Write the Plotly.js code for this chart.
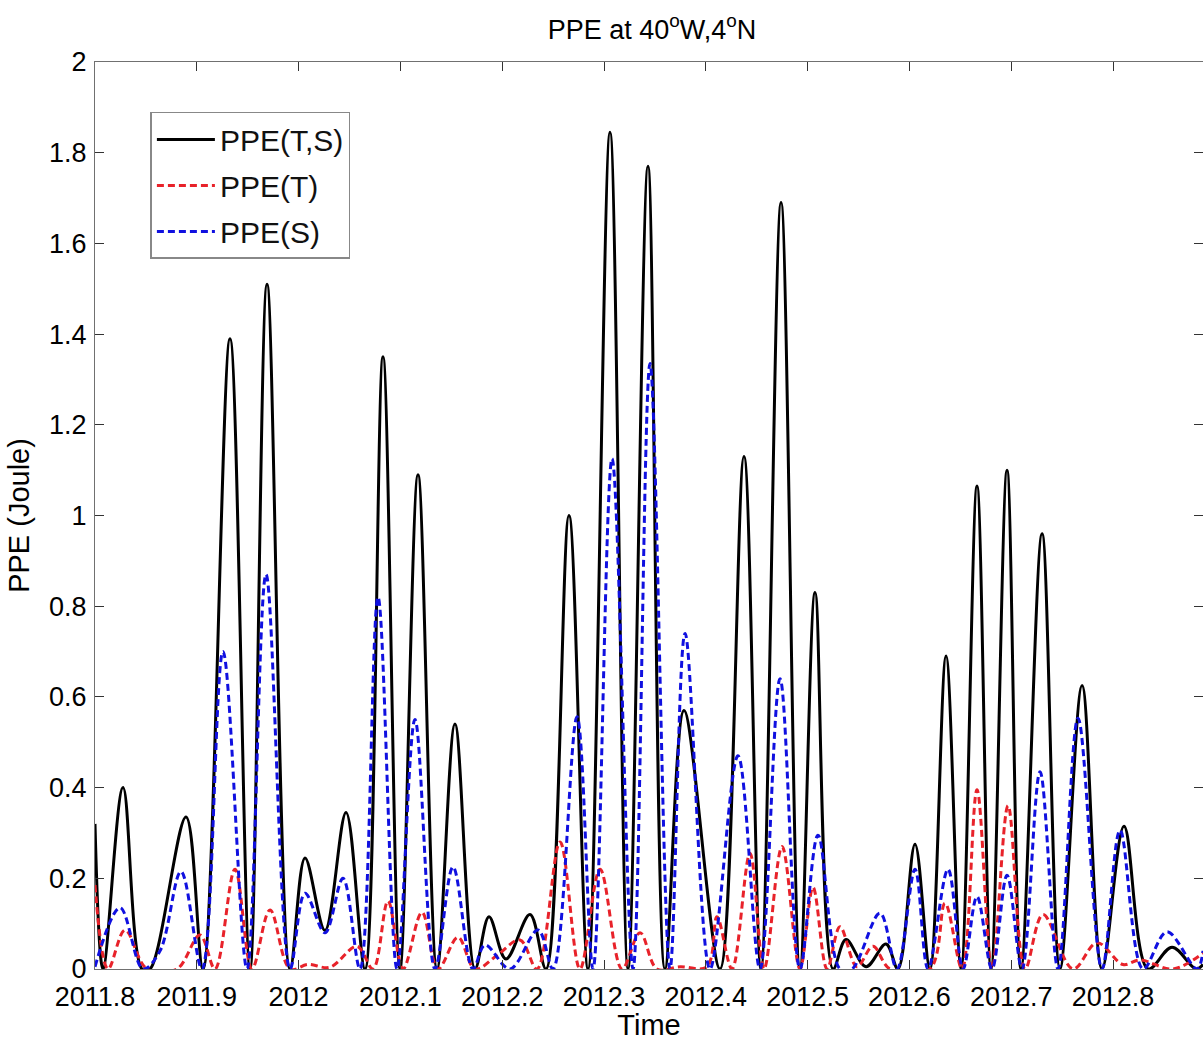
<!DOCTYPE html>
<html>
<head>
<meta charset="utf-8">
<script src="https://cdn.plot.ly/plotly-3.0.1.min.js"></script>
<style>html,body{margin:0;padding:0;background:#fff;}#chart{width:1203px;height:1041px;}</style>
</head>
<body>
<div id="chart"></div>
<script>
// PPE(T,S) — black solid
const tTS = [2011.8000,2011.8079,2011.8275,2011.8462,2011.8540,2011.8894,2011.9061,2011.9326,2011.9523,2011.9690,2011.9916,2012.0063,2012.0259,2012.0466,2012.0652,2012.0829,2012.0996,2012.1173,2012.1360,2012.1536,2012.1733,2012.1870,2012.2037,2012.2273,2012.2430,2012.2656,2012.2843,2012.3059,2012.3236,2012.3432,2012.3599,2012.3786,2012.4139,2012.4375,2012.4542,2012.4739,2012.4925,2012.5073,2012.5250,2012.5377,2012.5574,2012.5770,2012.5888,2012.6055,2012.6202,2012.6360,2012.6507,2012.6664,2012.6802,2012.6959,2012.7096,2012.7303,2012.7479,2012.7696,2012.7892,2012.8108,2012.8344,2012.8580,2012.8815,2012.8884];
const ppeTS = [0.32,0.0,0.40,0.0,0.0,0.335,0.0,1.39,0.0,1.51,0.0,0.245,0.085,0.345,0.0,1.35,0.0,1.09,0.0,0.54,0.0,0.115,0.022,0.12,0.0,1.00,0.0,1.845,0.0,1.77,0.0,0.57,0.0,1.13,0.0,1.69,0.0,0.83,0.0,0.065,0.005,0.055,0.0,0.275,0.0,0.69,0.0,1.065,0.0,1.10,0.0,0.96,0.0,0.625,0.0,0.315,0.0,0.048,0.0,0.01];

// PPE(T) — red dashed
const tT = [2011.8000,2011.8128,2011.8295,2011.8511,2011.8805,2011.9031,2011.9179,2011.9375,2011.9542,2011.9719,2011.9916,2012.0092,2012.0308,2012.0574,2012.0731,2012.0878,2012.1026,2012.1212,2012.1369,2012.1566,2012.1733,2012.1949,2012.2175,2012.2342,2012.2568,2012.2764,2012.2961,2012.3177,2012.3354,2012.3521,2012.3747,2012.4012,2012.4110,2012.4257,2012.4434,2012.4572,2012.4749,2012.4925,2012.5053,2012.5191,2012.5318,2012.5485,2012.5642,2012.5809,2012.6202,2012.6350,2012.6517,2012.6664,2012.6811,2012.6969,2012.7136,2012.7312,2012.7607,2012.7843,2012.8098,2012.8265,2012.8589,2012.8884];
const ppeT = [0.185,0.0,0.086,0.0,0.0,0.075,0.0,0.22,0.0,0.13,0.0,0.01,0.004,0.05,0.0,0.15,0.0,0.125,0.0,0.07,0.0,0.03,0.064,0.0,0.28,0.0,0.22,0.0,0.08,0.0,0.005,0.005,0.115,0.0,0.255,0.0,0.27,0.0,0.18,0.0,0.093,0.005,0.05,0.0,0.0,0.145,0.0,0.395,0.0,0.36,0.0,0.12,0.0,0.058,0.01,0.02,0.0,0.035];

// PPE(S) — blue dashed
const tS = [2011.8000,2011.8246,2011.8472,2011.8639,2011.8845,2011.9051,2011.9257,2011.9493,2011.9680,2011.9916,2012.0063,2012.0259,2012.0436,2012.0603,2012.0780,2012.0967,2012.1143,2012.1340,2012.1517,2012.1713,2012.1831,2012.2077,2012.2352,2012.2499,2012.2735,2012.2892,2012.3079,2012.3285,2012.3452,2012.3648,2012.3796,2012.4041,2012.4316,2012.4532,2012.4729,2012.4925,2012.5102,2012.5318,2012.5436,2012.5711,2012.5878,2012.6055,2012.6183,2012.6379,2012.6527,2012.6664,2012.6811,2012.6959,2012.7106,2012.7283,2012.7460,2012.7656,2012.7892,2012.8069,2012.8295,2012.8530,2012.8825,2012.8884];
const ppeS = [0.005,0.135,0.0,0.04,0.215,0.0,0.70,0.0,0.87,0.0,0.167,0.08,0.20,0.0,0.82,0.0,0.55,0.0,0.225,0.0,0.053,0.0,0.086,0.0,0.556,0.0,1.125,0.0,1.335,0.0,0.74,0.0,0.47,0.0,0.64,0.0,0.295,0.0,0.0,0.123,0.0,0.22,0.0,0.22,0.0,0.16,0.0,0.207,0.0,0.435,0.0,0.553,0.0,0.306,0.0,0.082,0.0,0.04];

const xTickVals = [2011.8,2011.9,2012.0,2012.1,2012.2,2012.3,2012.4,2012.5,2012.6,2012.7,2012.8];
const xTickText = ['2011.8','2011.9','2012','2012.1','2012.2','2012.3','2012.4','2012.5','2012.6','2012.7','2012.8'];
const yTickVals = [0,0.2,0.4,0.6,0.8,1,1.2,1.4,1.6,1.8,2];
const yTickText = ['0','0.2','0.4','0.6','0.8','1','1.2','1.4','1.6','1.8','2'];

const F = 'Liberation Sans, Arial, sans-serif';

const traces = [
  {x: tTS, y: ppeTS, name: 'PPE(T,S)', legendgroup: 'a', mode: 'lines', line: {color: '#000000', width: 3, shape: 'spline', smoothing: 1}},
  {x: tT, y: ppeT, name: 'PPE(T)', legendgroup: 'b', mode: 'lines', line: {color: '#e8222a', width: 3, dash: '7px,4px', shape: 'spline', smoothing: 1}},
  {x: tS, y: ppeS, name: 'PPE(S)', legendgroup: 'c', mode: 'lines', line: {color: '#1010e0', width: 3, dash: '7px,4px', shape: 'spline', smoothing: 1}}
];

const axisCommon = {
  showgrid: false, zeroline: false, showline: true, linecolor: '#707070', linewidth: 1,
  ticks: 'inside', ticklen: 9, tickcolor: '#333', tickwidth: 1, mirror: 'ticks',
  tickfont: {family: F, size: 27, color: '#000'}
};

const layout = {
  width: 1203, height: 1041,
  margin: {l: 95, r: 0, t: 62, b: 72},
  paper_bgcolor: '#fff', plot_bgcolor: '#fff',
  title: {text: 'PPE at 40<sup>o</sup>W,4<sup>o</sup>N', font: {family: 'Liberation Sans Narrow, Liberation Sans, Arial', size: 27, color: '#000'}, x: 0.542, xanchor: 'center', y: 0.972, yanchor: 'middle'},
  xaxis: Object.assign({}, axisCommon, {
    range: [2011.8, 2012.8884], tickvals: xTickVals, ticktext: xTickText, ticklabelstandoff: 4,
    title: {text: 'Time', font: {family: F, size: 29, color: '#000'}, standoff: 4}
  }),
  yaxis: Object.assign({}, axisCommon, {
    range: [0, 2], tickvals: yTickVals, ticktext: yTickText, ticklabelstandoff: 2,
    title: {text: 'PPE (Joule)', font: {family: F, size: 29, color: '#000'}, standoff: 10}
  }),
  showlegend: true,
  legend: {
    x: 0.05, y: 0.945, xanchor: 'left', yanchor: 'top',
    bgcolor: '#fff', bordercolor: '#888', borderwidth: 1.5,
    font: {family: F, size: 30, color: '#111'},
    tracegroupgap: 4, itemwidth: 58
  }
};

Plotly.newPlot('chart', traces, layout, {staticPlot: true, displayModeBar: false});
</script>
</body>
</html>
